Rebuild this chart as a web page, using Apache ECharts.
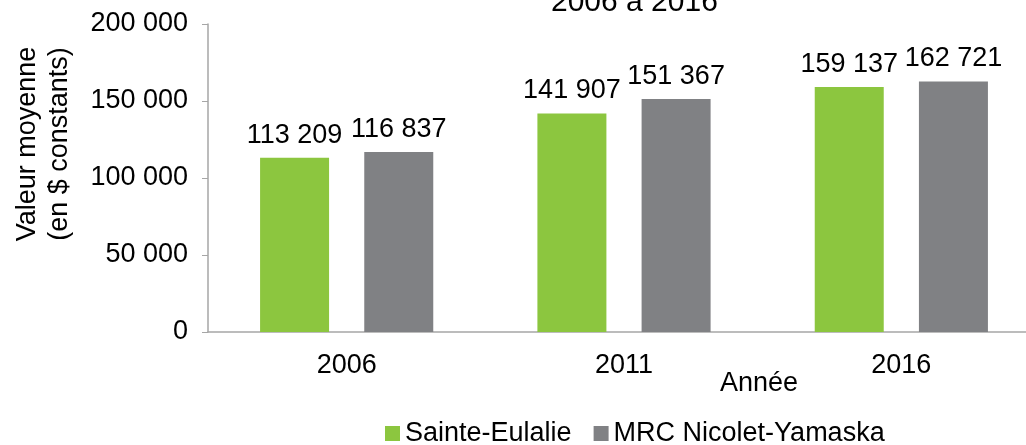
<!DOCTYPE html>
<html>
<head>
<meta charset="utf-8">
<script src="https://cdn.jsdelivr.net/npm/echarts@6/dist/echarts.min.js"></script>
<style>
    html, body { margin: 0; padding: 0; background: #fff; }
    #chart { width: 1026px; height: 445px; }
</style>
</head>
<body>
<div id="chart"></div>
<script>
var years = ['2006', '2011', '2016'];
var sainteEulalie = [113209, 141907, 159137];
var mrcNicolet = [116837, 151367, 162721];
var seriesNames = ['Sainte-Eulalie', 'MRC Nicolet-Yamaska'];

var colors = ['#8cc63f', '#808184'];
var font = 'Liberation Sans, Arial, sans-serif';

function spaced(v) {
    return String(v).replace(/\B(?=(\d{3})+(?!\d))/g, ' ');
}

var chart = echarts.init(document.getElementById('chart'));

var barLabel = {
    show: true,
    position: 'top',
    distance: 9,
    color: '#000',
    fontFamily: font,
    fontSize: 27,
    formatter: function(p) {
        return spaced(p.value);
    }
};

var option = {
    color: colors,
    animation: false,
    title: {
        text: '2006 à 2016',
        left: 551,
        top: -12,
        padding: 0,
        textStyle: {
            color: '#000',
            fontFamily: font,
            fontSize: 30,
            fontWeight: 'normal'
        }
    },
    grid: {
        left: 208,
        width: 832,
        top: 24,
        bottom: 113,
        outerBoundsMode: 'none',
        containLabel: false
    },
    legend: {
        bottom: -7,
        left: 380,
        itemWidth: 15,
        itemHeight: 15,
        itemGap: 22,
        icon: 'rect',
        textStyle: {
            color: '#000',
            fontFamily: font,
            fontSize: 27
        },
        data: seriesNames
    },
    xAxis: {
        type: 'category',
        data: years,
        name: 'Année',
        nameLocation: 'middle',
        nameGap: 38,
        nameMoveOverlap: false,
        nameTextStyle: {
            color: '#000',
            fontFamily: font,
            fontSize: 27,
            padding: [0, 0, 0, 270]
        },
        axisLine: { lineStyle: { color: '#a6a6a6', width: 1.5 } },
        axisTick: { show: false },
        axisLabel: {
            color: '#000',
            fontFamily: font,
            fontSize: 27,
            margin: 20
        }
    },
    yAxis: {
        type: 'value',
        min: 0,
        max: 200000,
        interval: 50000,
        name: 'Valeur moyenne\n(en $ constants)',
        nameLocation: 'middle',
        nameGap: 132,
        nameMoveOverlap: false,
        nameRotate: 90,
        nameTextStyle: {
            color: '#000',
            fontFamily: font,
            fontSize: 27,
            lineHeight: 32,
            padding: [0, 0, 0, 68]
        },
        splitLine: { show: false },
        axisLine: { show: true, lineStyle: { color: '#a6a6a6', width: 1.5 } },
        axisTick: { show: true, length: 6, lineStyle: { color: '#a6a6a6' } },
        axisLabel: {
            color: '#000',
            fontFamily: font,
            fontSize: 27,
            margin: 20,
            formatter: function(v) {
                return spaced(v);
            }
        }
    },
    series: [
        {
            name: seriesNames[0],
            type: 'bar',
            barWidth: 69,
            barGap: '51%',
            label: barLabel,
            data: sainteEulalie
        },
        {
            name: seriesNames[1],
            type: 'bar',
            barWidth: 69,
            barGap: '51%',
            label: barLabel,
            data: mrcNicolet
        }
    ]
};

chart.setOption(option);
</script>
</body>
</html>
